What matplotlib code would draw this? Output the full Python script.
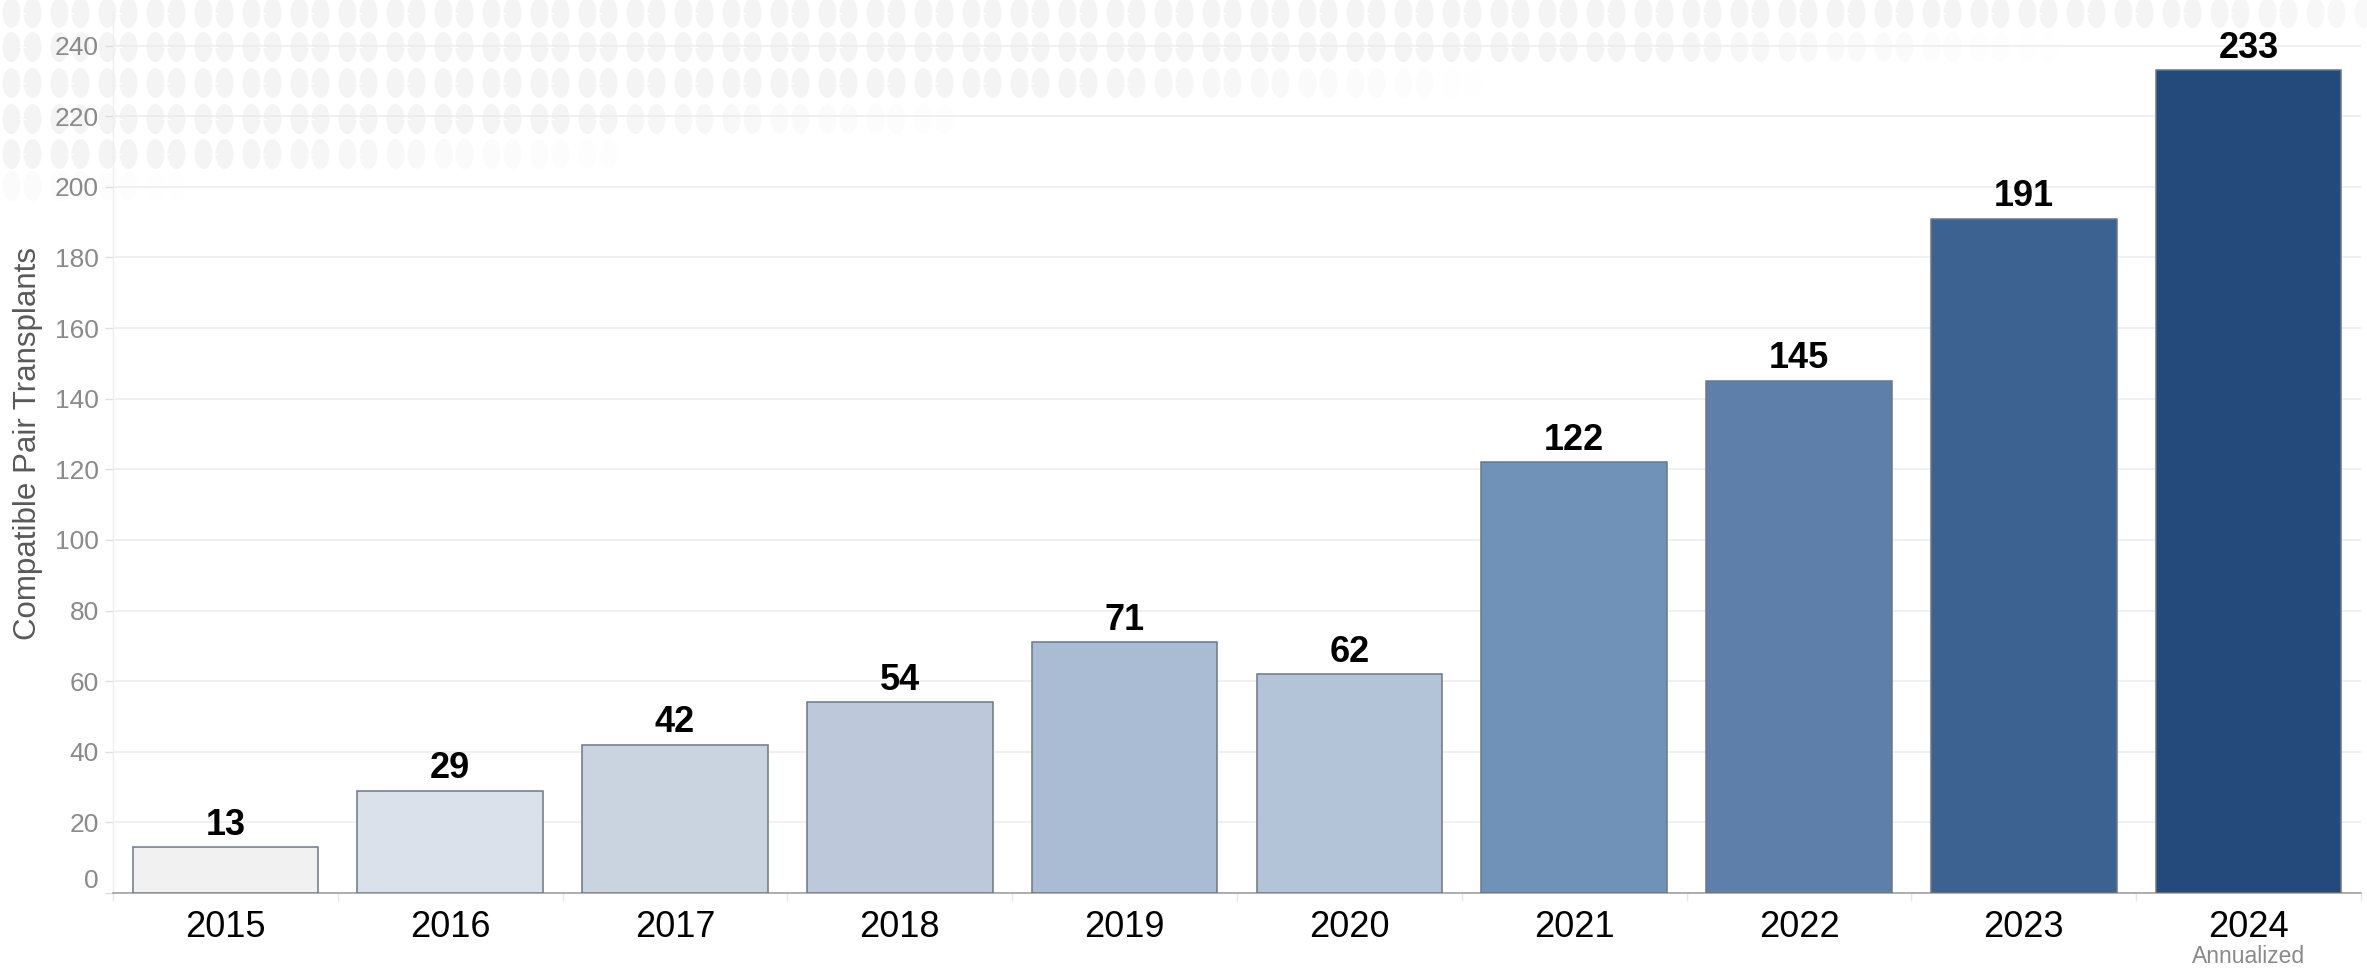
import numpy as np
import matplotlib
matplotlib.use("Agg")
import matplotlib.pyplot as plt
from matplotlib.patches import Ellipse
from matplotlib.transforms import ScaledTranslation

plt.rcParams['font.family'] = ['Liberation Sans', 'DejaVu Sans']

# compatible pair transplants per year (2024 annualized)
years = ["2015", "2016", "2017", "2018", "2019", "2020", "2021", "2022", "2023", "2024"]
transplants = [13, 29, 42, 54, 71, 62, 122, 145, 191, 233]
bar_colors = ["#f1f1f1", "#dae1ea", "#cad4e0", "#bdc9da", "#a9bcd3",
              "#b3c4d8", "#7091b8", "#5d7fa9", "#3b6290", "#234a7a"]
y_ticks = [0, 20, 40, 60, 80, 100, 120, 140, 160, 180, 200, 220, 240]

W, H = 2367, 968
fig = plt.figure(figsize=(W / 100, H / 100), dpi=100)

# faint kidney watermark in the top left, fading out to the right and down
bg = fig.add_axes([0, 0, 1, 1], zorder=0)
bg.set_xlim(0, W)
bg.set_ylim(H, 0)
bg.axis('off')
row_y = [13, 47, 83, 119, 154, 186]
row_end = [2600, 2050, 1500, 980, 640, 170]
for ry, xe in zip(row_y, row_end):
    for cx in np.arange(22, W + 48, 48):
        a = np.clip((xe - cx) / 420.0, 0, 1)
        if a <= 0:
            continue
        for dx in (-10.5, 10.5):
            bg.add_patch(Ellipse((cx + dx, ry), 18, 30, facecolor="#f4f4f4",
                                 edgecolor="none", alpha=a))
        bg.plot([cx - 3, cx + 3], [ry, ry], color="white", lw=0.8, alpha=a)
        bg.plot([cx, cx], [ry - 3, ry + 3], color="white", lw=0.8, alpha=a)

ax = fig.add_axes([113 / W, 1 - 893 / H, 2248 / W, (893 - 12) / H], zorder=1)
ax.set_facecolor("none")

x = np.arange(len(years))
ax.bar(x, transplants, width=0.826, color=bar_colors, edgecolor="#6d7785",
       linewidth=1.1, zorder=3)

for xi, v in zip(x, transplants):
    ax.annotate(str(v), xy=(xi, v), xytext=(0, 9), textcoords="offset points",
                ha="center", va="baseline", fontsize=26, fontweight="bold",
                color="black", zorder=4)

ax.set_xlim(-0.5, len(years) - 0.5)
ax.set_ylim(0, 249.5)
ax.set_yticks(y_ticks)
ax.set_xticks(x)
ax.set_xticklabels(years)
ax.set_xticks(np.arange(-0.5, len(years)), minor=True)

ax.yaxis.grid(True, color="#ececec", linewidth=1.1, zorder=0)
ax.set_axisbelow(True)

ax.tick_params(axis="x", which="major", length=0, pad=12, labelsize=26,
               labelcolor="black")
ax.tick_params(axis="x", which="minor", length=6, width=1, color="#e6e6e6")
ax.tick_params(axis="y", length=6, width=1, color="#dddddd", pad=4,
               labelsize=19, labelcolor="#8a8a8a")

for s in ["top", "right"]:
    ax.spines[s].set_visible(False)
ax.spines["left"].set_color("#eeeeee")
ax.spines["left"].set_linewidth(1)
ax.spines["bottom"].set_color("#9a9a9a")
ax.spines["bottom"].set_linewidth(1.1)

fig.text(28 / W, 1 - 443 / H, "Compatible Pair Transplants", rotation=90,
         ha="center", va="center", fontsize=22.5, color="#595959")

ax.annotate("Annualized", xy=(9, 0), xycoords=("data", "axes fraction"),
            xytext=(0, -46), textcoords="offset points", ha="center",
            va="center", fontsize=16.5, color="#8a8a8a")

# the zero label sits a little above its tick in the original
zero_lbl = ax.get_yticklabels()[0]
zero_lbl.set_transform(zero_lbl.get_transform() +
                       ScaledTranslation(0, 0.15, fig.dpi_scale_trans))

fig.savefig("out.png", dpi=100)
